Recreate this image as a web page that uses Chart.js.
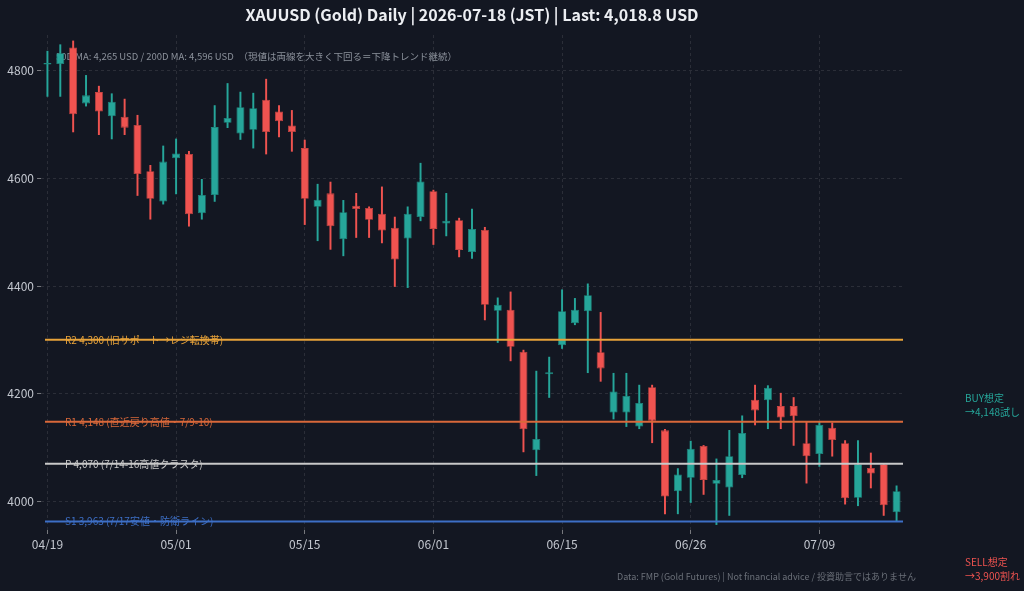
<!DOCTYPE html>
<html>
<head>
<meta charset="utf-8">
<script src="https://cdn.jsdelivr.net/npm/chart.js@4.4.1/dist/chart.umd.min.js"></script>
<style>
  html, body { margin: 0; padding: 0; background: #131722; }
  #wrap { width: 1024px; height: 591px; }
</style>
</head>
<body>
<div id="wrap"><canvas id="chartGold"></canvas></div>
<script>
/* ------------------------------------------------------------
   Données
------------------------------------------------------------ */
const dates = [
  '04/19','04/20','04/21','04/22','04/23','04/24','04/27','04/28','04/29','04/30',
  '05/01','05/04','05/05','05/06','05/07','05/08','05/11','05/12','05/13','05/14',
  '05/15','05/18','05/19','05/20','05/21','05/22','05/26','05/27','05/28','05/29',
  '06/01','06/02','06/03','06/04','06/05','06/08','06/09','06/10','06/11','06/12',
  '06/15','06/16','06/17','06/18','06/19','06/20','06/22','06/23','06/24','06/25',
  '06/26','06/29','06/30','07/01','07/02','07/03','07/05','07/06','07/07','07/08',
  '07/09','07/10','07/13','07/14','07/15','07/16','07/17'
];

const opens  = [4811,4812,4843,4739,4760,4715,4714,4699,4613,4557,
                4637,4645,4535,4569,4703,4683,4690,4746,4724,4698,
                4656,4547,4572,4487,4549,4545,4534,4508,4488,4528,
                4576,4516,4522,4463,4504,4354,4356,4278,4095,4236,
                4290,4331,4353,4277,4165,4165,4139,4212,4132,4019,
                4044,4103,4033,4026,4049,4189,4188,4177,4177,4108,
                4088,4137,4108,4007,4062,4069,3980];
const highs  = [4836,4848,4855,4791,4771,4757,4747,4717,4624,4660,
                4673,4650,4598,4735,4776,4760,4758,4784,4735,4726,
                4671,4589,4593,4559,4572,4547,4584,4528,4547,4628,
                4578,4572,4526,4543,4509,4378,4389,4281,4242,4268,
                4393,4377,4404,4351,4238,4238,4216,4216,4134,4061,
                4112,4104,4079,4132,4159,4216,4215,4201,4193,4147,
                4148,4146,4113,4113,4090,4069,4029];
const lows   = [4752,4752,4686,4734,4681,4673,4681,4568,4524,4552,
                4571,4511,4524,4557,4694,4672,4656,4645,4677,4650,
                4514,4484,4468,4456,4490,4490,4480,4399,4397,4521,
                4477,4493,4454,4451,4337,4295,4261,4092,4048,4193,
                4284,4328,4239,4223,4153,4139,4135,4109,3977,3977,
                3998,4013,3957,3974,4044,4142,4135,4135,4104,4034,
                4065,4084,3995,3992,4025,3974,3963];
const closes = [4814,4832,4719,4754,4724,4742,4694,4608,4562,4631,
                4646,4533,4569,4695,4712,4732,4730,4686,4706,4686,
                4562,4560,4511,4537,4543,4523,4503,4449,4534,4594,
                4506,4521,4467,4506,4365,4365,4287,4134,4116,4240,
                4353,4356,4383,4247,4204,4196,4183,4150,4009,4050,
                4098,4040,4040,4084,4127,4169,4211,4156,4158,4084,
                4142,4114,4006,4069,4052,3993,4019];

const yTicks = [4000, 4200, 4400, 4600, 4800];

/* Niveaux horizontaux */
const levelValues = [4300, 4148, 4070, 3963];
const levelLabels = [
  'R2 4,300 (旧サポート→レジ転換帯)',
  'R1 4,148 (直近戻り高値・7/9-10)',
  'P 4,070 (7/14-16高値クラスタ)',
  'S1 3,963 (7/17安値・防衛ライン)'
];
const levelColors = ['#e8a33a', '#d9683a', '#c9c9c9', '#3d6fc6'];

const titleText  = 'XAUUSD (Gold) Daily | 2026-07-18 (JST) | Last: 4,018.8 USD';
const maText     = '50D MA: 4,265 USD / 200D MA: 4,596 USD　（現値は両線を大きく下回る＝下降トレンド継続）';
const buyLines   = ['BUY想定', '→4,148試し'];
const sellLines  = ['SELL想定', '→3,900割れ'];
const footerText = 'Data: FMP (Gold Futures) | Not financial advice / 投資助言ではありません';

/* ------------------------------------------------------------
   Couleurs
------------------------------------------------------------ */
const UP = '#26a69a', DOWN = '#ef5350';
const UP_EDGE = '#1e8a80', DOWN_EDGE = '#c94442';
const FONT = '"Noto Sans CJK JP", "Noto Sans", sans-serif';

const isUp = closes.map((c, i) => c >= opens[i]);
const bodyColors = isUp.map(u => u ? UP : DOWN);
const edgeColors = isUp.map(u => u ? UP_EDGE : DOWN_EDGE);

/* ------------------------------------------------------------
   Plugins : titre, textes, niveaux
------------------------------------------------------------ */
const textsUnder = {
  id: 'textsUnder',
  beforeDatasetsDraw(chart) {
    const { ctx, chartArea } = chart;
    ctx.save();
    ctx.font = '9.5px ' + FONT;
    ctx.fillStyle = '#8b919b';
    ctx.textAlign = 'left';
    ctx.textBaseline = 'middle';
    ctx.fillText(maText, chartArea.left + 15, 56);
    ctx.restore();
  }
};

const levelsAndTexts = {
  id: 'levelsAndTexts',
  afterDatasetsDraw(chart) {
    const { ctx, chartArea, scales } = chart;
    ctx.save();
    levelValues.forEach((v, i) => {
      const y = scales.y.getPixelForValue(v);
      ctx.font = '10px ' + FONT;
      ctx.fillStyle = levelColors[i];
      ctx.textAlign = 'left';
      ctx.textBaseline = 'middle';
      ctx.fillText(levelLabels[i], chartArea.left + 24, y);
      ctx.strokeStyle = levelColors[i];
      ctx.lineWidth = 2;
      ctx.beginPath();
      ctx.moveTo(chartArea.left + 4, y);
      ctx.lineTo(chartArea.right, y);
      ctx.stroke();
    });
    ctx.restore();
  },
  afterDraw(chart) {
    const { ctx, chartArea } = chart;
    ctx.save();
    // titre centré sur la zone de tracé
    ctx.font = 'bold 16px ' + FONT;
    ctx.fillStyle = '#eceef2';
    ctx.textAlign = 'center';
    ctx.textBaseline = 'middle';
    ctx.fillText(titleText, (chartArea.left + chartArea.right) / 2, 15);

    // annotations à droite
    ctx.font = '10px ' + FONT;
    ctx.textAlign = 'left';
    ctx.fillStyle = UP;
    buyLines.forEach((t, i) => ctx.fillText(t, 965, 398 + i * 14));
    ctx.fillStyle = DOWN;
    sellLines.forEach((t, i) => ctx.fillText(t, 965, 562 + i * 14));

    // source
    ctx.font = '9px ' + FONT;
    ctx.fillStyle = '#6b7079';
    ctx.textAlign = 'right';
    ctx.fillText(footerText, 916, 577);
    ctx.restore();
  }
};

/* ------------------------------------------------------------
   Graphique
------------------------------------------------------------ */
document.addEventListener('DOMContentLoaded', function () {
  const ctx = document.getElementById('chartGold');

  new Chart(ctx, {
    type: 'bar',
    data: {
      labels: dates,
      datasets: [
        {
          label: 'Body',
          data: opens.map((o, i) => [o, closes[i]]),
          backgroundColor: bodyColors,
          borderColor: edgeColors,
          borderWidth: 0.8,
          borderSkipped: false,
          barPercentage: 0.62,
          categoryPercentage: 1,
          minBarLength: 1.5,
          grouped: false,
          order: 1,
        },
        {
          label: 'Wick',
          data: lows.map((l, i) => [l, highs[i]]),
          backgroundColor: bodyColors,
          borderWidth: 0,
          barThickness: 1.3,
          grouped: false,
          order: 2,
        }
      ]
    },
    options: {
      responsive: true,
      maintainAspectRatio: false,
      animation: false,
      layout: { padding: { top: 35, right: 121, bottom: 41, left: 0 } },
      plugins: {
        legend: { display: false },
        tooltip: { enabled: false },
        title: { display: false }
      },
      scales: {
        x: {
          offset: true,
          grid: {
            offset: false,
            color: 'rgba(255,255,255,0.10)',
            tickColor: 'rgba(200,200,200,0.55)',
            tickLength: 4,
            tickBorderDash: []
          },
          border: { display: false, dash: [3, 3] },
          ticks: {
            autoSkip: false,
            maxRotation: 0,
            padding: 3,
            font: { size: 12, family: FONT },
            color: '#c3c7cf',
            callback: (v, i) => (i % 10 === 0 ? dates[i] : null)
          },
          afterFit: s => { s.height = 20; }
        },
        y: {
          min: 3947,
          max: 4866,
          afterBuildTicks: s => { s.ticks = yTicks.map(v => ({ value: v })); },
          grid: {
            color: 'rgba(255,255,255,0.10)',
            tickColor: 'rgba(200,200,200,0.55)',
            tickLength: 4,
            tickBorderDash: []
          },
          border: { display: false, dash: [3, 3] },
          ticks: {
            padding: 3,
            font: { size: 12, family: FONT },
            color: '#c3c7cf',
            callback: v => String(v)
          },
          afterFit: s => { s.width = 41; }
        }
      }
    },
    plugins: [textsUnder, levelsAndTexts]
  });
});
</script>
</body>
</html>
